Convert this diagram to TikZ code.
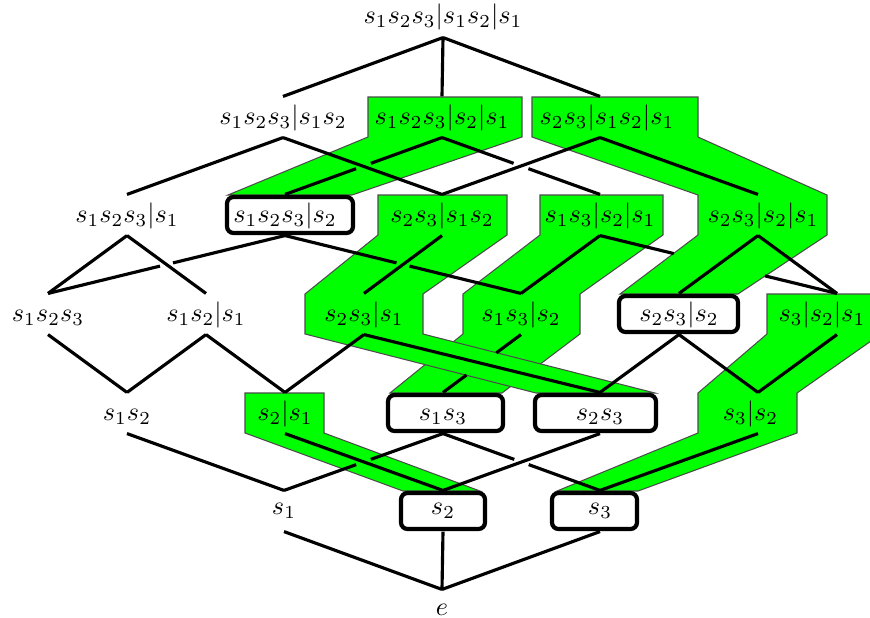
\documentclass[tikz,border=0pt]{standalone}
\usepackage{amsmath}
\usepackage{tikz}
\usetikzlibrary{calc}

\begin{document}
\begin{tikzpicture}[x=0.3817pt, y=-0.3817pt,
        elem/.style={minimum height=15.3pt, inner sep=0pt},
        tall/.style={elem, text height=8pt, text depth=2pt},
        edge/.style={very thick},
        band/.style={fill=green, draw=black!70, line width=0.4pt},
        box/.style={fill=white, draw, ultra thick, rounded corners=2.5pt}]
        \useasboundingbox (0,0) rectangle (870,618);

        % green bands
        \draw[band] (368,97) -- (522,97) -- (522,137) -- (352,195) -- (228,195) -- (368,137) -- cycle;
        \draw[band] (532,97) -- (698,97) -- (698,137) -- (827,195) -- (827,235) -- (738,294)
            -- (620,294) -- (698,235) -- (698,195) -- (532,137) -- cycle;
        \draw[band] (540,195) -- (663,195) -- (663,235) -- (580,294) -- (580,334) -- (502,393)
            -- (390,393) -- (463,334) -- (463,294) -- (540,235) -- cycle;
        \draw[band] (378,195) -- (507,195) -- (507,235) -- (423,294) -- (423,334) -- (655,393)
            -- (536,393) -- (305,334) -- (305,294) -- (378,235) -- cycle;
        \draw[band] (245,393) -- (324,393) -- (324,433) -- (480,491) -- (403,491) -- (245,433) -- cycle;
        \draw[band] (767,294) -- (881,294) -- (881,334) -- (797,393) -- (797,433) -- (638,491)
            -- (557,491) -- (698,433) -- (698,393) -- (767,334) -- cycle;

        % boxes
        \draw[box] (227,197) rectangle (353,233);
        \draw[box] (619,296) rectangle (738,332);
        \draw[box] (388,395) rectangle (503,431);
        \draw[box] (535,395) rectangle (656,431);
        \draw[box] (401,493) rectangle (485,529);
        \draw[box] (552,493) rectangle (637,529);

        \node[elem] (s123s12s1) at (443,17) {$s_1s_2s_3|s_1s_2|s_1$};

        \node[tall] (s123s12) at (283,117) {$s_1s_2s_3|s_1s_2$};
        \node[tall] (s123s2s1) at (442,117) {$s_1s_2s_3|s_2|s_1$};
        \node[tall] (s23s12s1) at (600,117) {$s_2s_3|s_1s_2|s_1$\hspace*{-5.3pt}};

        \node[tall] (s123s1) at (127,215) {$s_1s_2s_3|s_1$};
        \node[tall] (s123s2) at (285,215) {$s_1s_2s_3|s_2$};
        \node[tall] (s23s12) at (442,215) {$s_2s_3|s_1s_2$};
        \node[tall] (s13s2s1) at (600,215) {$s_1s_3|s_2|s_1$};
        \node[tall] (s23s2s1) at (758,215) {$s_2s_3|s_2|s_1$\hspace*{-3.8pt}};

        \node[tall] (s123) at (48,314) {$s_1s_2s_3$};
        \node[tall] (s12s1) at (206,314) {$s_1s_2|s_1$};
        \node[tall] (s23s1) at (364,314) {$s_2s_3|s_1$};
        \node[tall] (s13s2) at (521,314) {$s_1s_3|s_2$};
        \node[tall] (s23s2) at (679,314) {$s_2s_3|s_2$};
        \node[tall] (s3s2s1) at (837,314) {\hspace*{-11.5pt}$s_3|s_2|s_1$};

        \node[tall] (s12) at (127,413) {$s_1s_2$};
        \node[tall] (s2s1) at (285,413) {$s_2|s_1$};
        \node[tall] (s13) at (443,413) {$s_1s_3$};
        \node[tall] (s23) at (600,413) {$s_2s_3$};
        \node[tall] (s3s2) at (758,413) {\hspace*{-5.7pt}$s_3|s_2$};

        \node[elem] (s1) at (284,511) {$s_1$};
        \node[elem] (s2) at (443,511) {$s_2$};
        \node[elem] (s3) at (600,511) {$s_3$};

        \node[elem] (id) at (442,610) {$e$};

        \draw[edge] (s123s12s1.south) to (s123s12.north)
            (s123s12s1.south) to (s123s2s1.north)
            (s123s12s1.south) to (s23s12s1.north);

        \draw[edge] (s123s12.south) to (s123s1.north)
            (s123s12.south) to (s23s12.north)
            (s23s12s1.south) to (s23s12.north)
            (s23s12s1.south) to (s23s2s1.north);
        \draw[edge] (s123s2s1.south) -- ($(s123s2s1.south)!0.453!(s123s2.north)$)
            ($(s123s2s1.south)!0.547!(s123s2.north)$) -- (s123s2.north);
        \draw[edge] (s123s2s1.south) -- ($(s123s2s1.south)!0.453!(s13s2s1.north)$)
            ($(s123s2s1.south)!0.547!(s13s2s1.north)$) -- (s13s2s1.north);

        \draw[edge] (s123s1.south) to (s123.north)
            (s123s1.south) to (s12s1.north)
            (s23s12.south) to (s23s1.north)
            (s13s2s1.south) to (s13s2.north)
            (s23s2s1.south) to (s23s2.north)
            (s23s2s1.south) to (s3s2s1.north);
        \draw[edge] (s123s2.south) -- ($(s123s2.south)!0.4725!(s123.north)$)
            ($(s123s2.south)!0.5275!(s123.north)$) -- (s123.north);
        \draw[edge] (s123s2.south) -- ($(s123s2.south)!0.4725!(s13s2.north)$)
            ($(s123s2.south)!0.5275!(s13s2.north)$) -- (s13s2.north);
        \draw[edge] (s13s2s1.south) -- ($(s13s2s1.south)!0.311!(s3s2s1.north)$)
            ($(s13s2s1.south)!0.696!(s3s2s1.north)$) -- (s3s2s1.north);

        \draw[edge] (s123.south) to (s12.north)
            (s12s1.south) to (s12.north)
            (s12s1.south) to (s2s1.north)
            (s23s1.south) to (s2s1.north)
            (s23s1.south) to (s23.north)
            (s23s2.south) to (s23.north)
            (s23s2.south) to (s3s2.north)
            (s3s2s1.south) to (s3s2.north);
        \draw[edge] (s13s2.south) -- ($(s13s2.south)!0.316!(s13.north)$)
            ($(s13s2.south)!0.699!(s13.north)$) -- (s13.north);

        \draw[edge] (s12.south) to (s1.north)
            (s2s1.south) to (s2.north)
            (s23.south) to (s2.north)
            (s3s2.south) to (s3.north);
        \draw[edge] (s13.south) -- ($(s13.south)!0.454!(s1.north)$)
            ($(s13.south)!0.546!(s1.north)$) -- (s1.north);
        \draw[edge] (s13.south) -- ($(s13.south)!0.454!(s3.north)$)
            ($(s13.south)!0.546!(s3.north)$) -- (s3.north);

        \draw[edge] (s1.south) to (id.north)
            (s2.south) to (id.north)
            (s3.south) to (id.north);
    \end{tikzpicture}
\end{document}
